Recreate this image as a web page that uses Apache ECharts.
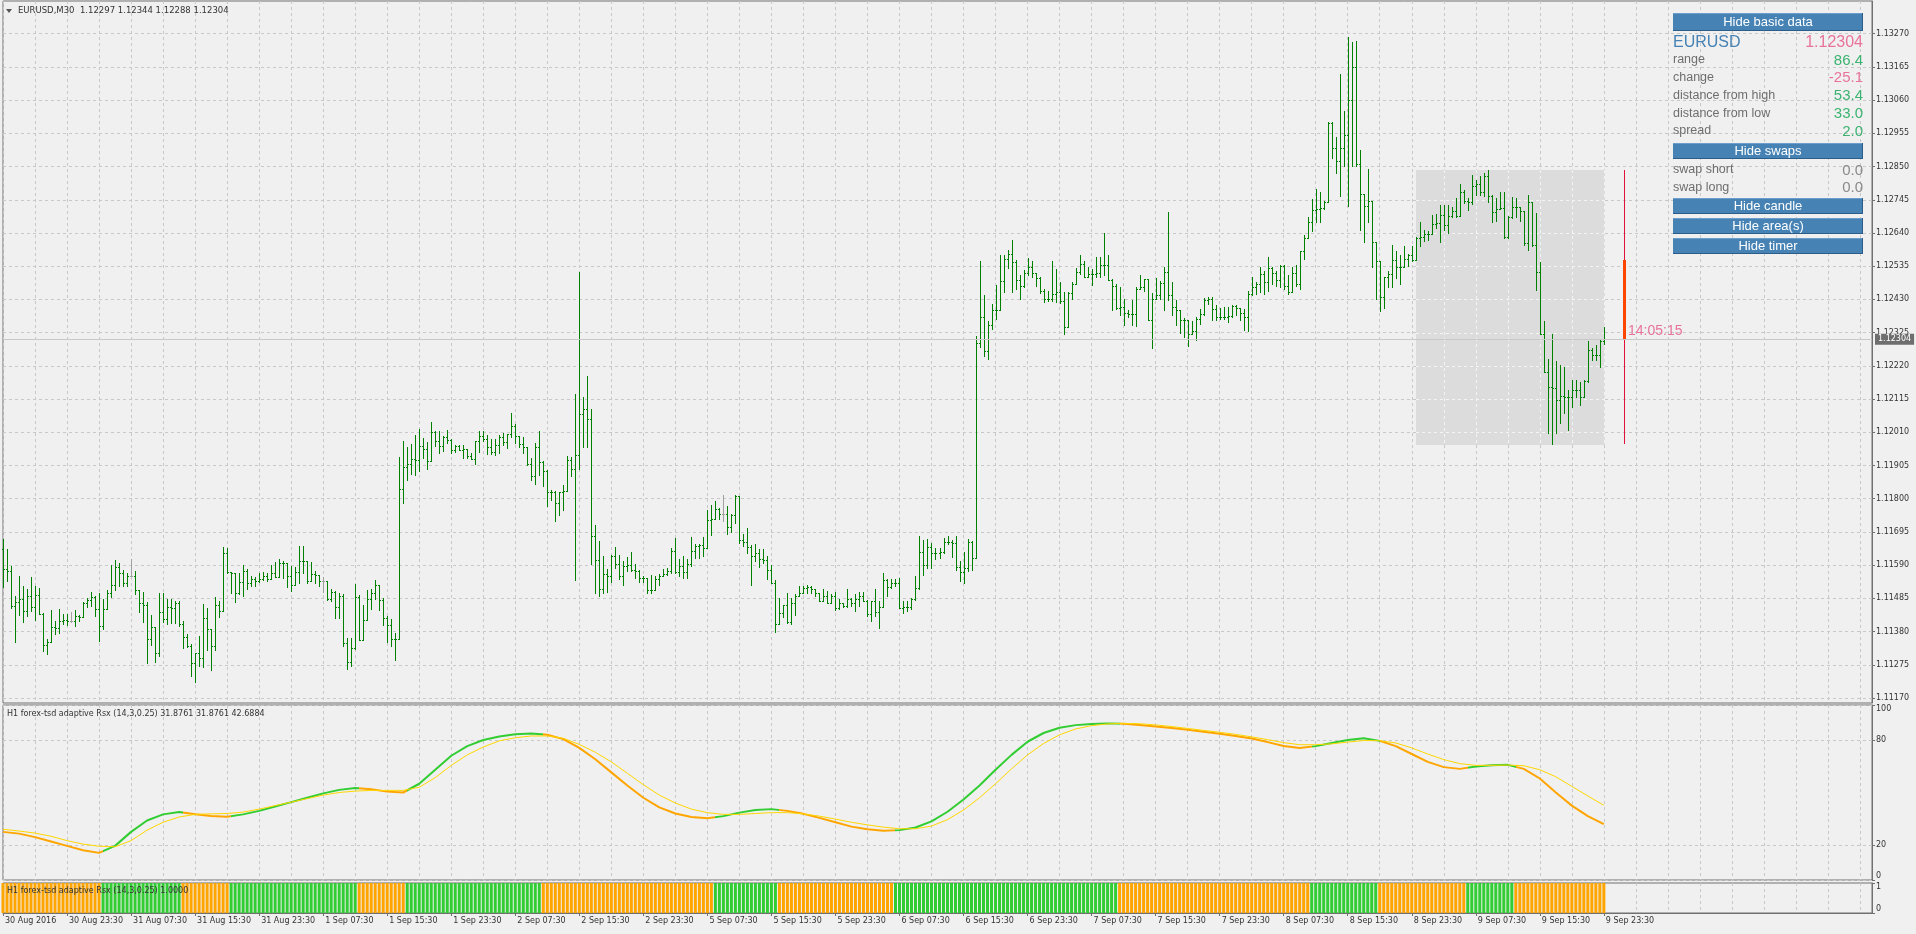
<!DOCTYPE html>
<html><head><meta charset="utf-8">
<script src="https://cdn.jsdelivr.net/npm/echarts@6/dist/echarts.min.js"></script>
<style>html,body{margin:0;padding:0;background:#f0f0f0;overflow:hidden}#c{width:1916px;height:934px}</style>
</head><body><div id="c"></div>
<script>
// ---------------- data ----------------
const symbolName = 'EURUSD,M30';
const tickLabels = ['30 Aug 2016','30 Aug 23:30','31 Aug 07:30','31 Aug 15:30','31 Aug 23:30','1 Sep 07:30','1 Sep 15:30','1 Sep 23:30','2 Sep 07:30','2 Sep 15:30','2 Sep 23:30','5 Sep 07:30','5 Sep 15:30','5 Sep 23:30','6 Sep 07:30','6 Sep 15:30','6 Sep 23:30','7 Sep 07:30','7 Sep 15:30','7 Sep 23:30','8 Sep 07:30','8 Sep 15:30','8 Sep 23:30','9 Sep 07:30','9 Sep 15:30','9 Sep 23:30'];
const barsPerLabel = 16;
const barsPerGridCell = 8;
const totalSlots = 468;
const priceTicks = [1.11170,1.11275,1.11380,1.11485,1.11590,1.11695,1.11800,1.11905,1.12010,1.12115,1.12220,1.12325,1.12430,1.12535,1.12640,1.12745,1.12850,1.12955,1.13060,1.13165,1.13270];
const rsxTicks = [0,20,80,100];
const histTicks = [0,1];

const opens = [
1.11640,1.11578,1.11571,1.11461,1.11474,1.11484,1.11444,1.11492,1.11459,1.11497,
1.11437,1.11339,1.11348,1.11393,1.11390,1.11413,1.11416,1.11414,1.11414,1.11429,
1.11427,1.11471,1.11479,1.11490,1.11452,1.11398,1.11452,1.11503,1.11528,1.11585,
1.11566,1.11534,1.11557,1.11557,1.11511,1.11469,1.11463,1.11358,1.11396,1.11311,
1.11442,1.11419,1.11459,1.11455,1.11469,1.11403,1.11364,1.11335,1.11282,1.11311,
1.11296,1.11422,1.11387,1.11335,1.11465,1.11446,1.11629,1.11567,1.11564,1.11503,
1.11537,1.11572,1.11532,1.11545,1.11540,1.11547,1.11555,1.11545,1.11564,1.11553,
1.11598,1.11597,1.11556,1.11526,1.11569,1.11603,1.11604,1.11540,1.11561,1.11560,
1.11540,1.11540,1.11482,1.11506,1.11459,1.11492,1.11345,1.11285,1.11327,1.11490,
1.11352,1.11416,1.11482,1.11501,1.11526,1.11481,1.11424,1.11400,1.11358,1.11356,
1.11830,1.11900,1.11910,1.11924,1.11923,1.11967,1.11956,1.11919,1.12011,1.11981,
1.11967,1.11996,1.11985,1.11953,1.11968,1.11954,1.11956,1.11935,1.11927,1.11981,
1.11998,1.11990,1.11965,1.11948,1.11970,1.11995,1.11978,1.12005,1.12030,1.11998,
1.11973,1.11965,1.11909,1.11872,1.11962,1.11917,1.11888,1.11820,1.11822,1.11786,
1.11821,1.11824,1.11921,1.11893,1.11939,1.12068,1.12084,1.12051,1.11683,1.11605,
1.11513,1.11561,1.11555,1.11618,1.11594,1.11555,1.11587,1.11590,1.11576,1.11573,
1.11549,1.11550,1.11511,1.11510,1.11545,1.11557,1.11562,1.11571,1.11636,1.11567,
1.11587,1.11567,1.11595,1.11636,1.11650,1.11655,1.11645,1.11734,1.11736,1.11768,
1.11752,1.11752,1.11711,1.11747,1.11807,1.11668,1.11663,1.11647,1.11618,1.11629,
1.11610,1.11606,1.11574,1.11534,1.11403,1.11440,1.11463,1.11410,1.11469,1.11494,
1.11503,1.11519,1.11520,1.11513,1.11503,1.11476,1.11492,1.11469,1.11494,1.11456,
1.11469,1.11461,1.11484,1.11471,1.11484,1.11494,1.11477,1.11434,1.11477,1.11443,
1.11459,1.11543,1.11522,1.11534,1.11535,1.11456,1.11457,1.11459,1.11482,1.11519,
1.11631,1.11591,1.11647,1.11627,1.11628,1.11632,1.11663,1.11662,1.11660,1.11585,
1.11568,1.11582,1.11662,1.11611,1.12292,1.12374,1.12266,1.12350,1.12397,1.12395,
1.12488,1.12558,1.12574,1.12548,1.12490,1.12471,1.12514,1.12532,1.12515,1.12497,
1.12456,1.12432,1.12431,1.12448,1.12453,1.12424,1.12343,1.12450,1.12479,1.12516,
1.12542,1.12502,1.12511,1.12509,1.12514,1.12539,1.12538,1.12490,1.12474,1.12403,
1.12406,1.12387,1.12385,1.12383,1.12462,1.12469,1.12493,1.12366,1.12432,1.12443,
1.12483,1.12518,1.12445,1.12406,1.12397,1.12364,1.12366,1.12322,1.12330,1.12369,
1.12385,1.12427,1.12430,1.12399,1.12376,1.12374,1.12376,1.12379,1.12408,1.12404,
1.12388,1.12374,1.12446,1.12469,1.12479,1.12511,1.12485,1.12530,1.12514,1.12490,
1.12537,1.12474,1.12453,1.12514,1.12479,1.12582,1.12624,1.12674,1.12712,1.12716,
1.12719,1.12737,1.12989,1.12908,1.12868,1.12908,1.12950,1.13059,1.13164,1.12859,
1.12763,1.12726,1.12742,1.12613,1.12553,1.12439,1.12500,1.12511,1.12555,1.12532,
1.12534,1.12558,1.12569,1.12555,1.12624,1.12626,1.12637,1.12638,1.12668,1.12673,
1.12697,1.12666,1.12695,1.12709,1.12695,1.12768,1.12742,1.12737,1.12789,1.12794,
1.12771,1.12821,1.12758,1.12707,1.12716,1.12720,1.12626,1.12689,1.12721,1.12722,
1.12709,1.12609,1.12737,1.12602,1.12516,1.12322,1.12201,1.12154,1.12150,1.12112,
1.12124,1.12122,1.12120,1.12143,1.12145,1.12122,1.12172,1.12271,1.12254,1.12255,
1.12297];

const highs = [
1.11673,1.11642,1.11587,1.11492,1.11557,1.11523,1.11516,1.11554,1.11523,1.11518,
1.11438,1.11356,1.11447,1.11413,1.11450,1.11437,1.11437,1.11441,1.11449,1.11432,
1.11473,1.11486,1.11505,1.11491,1.11503,1.11484,1.11512,1.11589,1.11605,1.11597,
1.11574,1.11564,1.11610,1.11572,1.11511,1.11504,1.11472,1.11431,1.11396,1.11501,
1.11501,1.11484,1.11484,1.11477,1.11476,1.11414,1.11371,1.11340,1.11311,1.11367,
1.11468,1.11456,1.11389,1.11488,1.11478,1.11646,1.11643,1.11568,1.11566,1.11566,
1.11592,1.11577,1.11555,1.11554,1.11566,1.11567,1.11565,1.11591,1.11599,1.11610,
1.11603,1.11597,1.11588,1.11585,1.11650,1.11652,1.11604,1.11600,1.11570,1.11560,
1.11551,1.11540,1.11516,1.11509,1.11503,1.11500,1.11360,1.11359,1.11529,1.11495,
1.11465,1.11511,1.11516,1.11544,1.11528,1.11486,1.11429,1.11419,1.11377,1.11932,
1.11981,1.11965,1.11972,1.12002,1.12019,1.11993,1.11980,1.12043,1.12014,1.12015,
1.11998,1.12016,1.11989,1.11970,1.11970,1.11969,1.11956,1.11943,1.11981,1.12014,
1.12014,1.12000,1.11988,1.11988,1.12000,1.12007,1.12006,1.12070,1.12035,1.11998,
1.11996,1.11965,1.11929,1.11975,1.12014,1.11919,1.11890,1.11827,1.11824,1.11822,
1.11842,1.11935,1.11932,1.12131,1.12518,1.12120,1.12187,1.12085,1.11718,1.11665,
1.11619,1.11579,1.11621,1.11647,1.11621,1.11603,1.11616,1.11633,1.11595,1.11576,
1.11557,1.11550,1.11558,1.11555,1.11561,1.11579,1.11582,1.11645,1.11675,1.11610,
1.11618,1.11610,1.11680,1.11656,1.11658,1.11678,1.11765,1.11781,1.11794,1.11770,
1.11813,1.11776,1.11752,1.11812,1.11807,1.11687,1.11708,1.11655,1.11658,1.11642,
1.11640,1.11618,1.11589,1.11542,1.11487,1.11463,1.11503,1.11487,1.11498,1.11523,
1.11524,1.11528,1.11524,1.11513,1.11503,1.11513,1.11508,1.11500,1.11505,1.11482,
1.11471,1.11513,1.11487,1.11498,1.11505,1.11505,1.11479,1.11477,1.11513,1.11476,
1.11566,1.11545,1.11547,1.11547,1.11548,1.11477,1.11477,1.11487,1.11555,1.11683,
1.11668,1.11673,1.11660,1.11645,1.11645,1.11676,1.11683,1.11669,1.11681,1.11603,
1.11632,1.11674,1.11666,1.12313,1.12550,1.12443,1.12361,1.12416,1.12476,1.12569,
1.12569,1.12586,1.12619,1.12555,1.12506,1.12523,1.12561,1.12550,1.12515,1.12500,
1.12464,1.12456,1.12550,1.12527,1.12485,1.12453,1.12453,1.12485,1.12530,1.12569,
1.12553,1.12534,1.12527,1.12563,1.12563,1.12640,1.12569,1.12495,1.12479,1.12469,
1.12430,1.12397,1.12427,1.12469,1.12508,1.12495,1.12495,1.12450,1.12497,1.12487,
1.12532,1.12707,1.12484,1.12427,1.12397,1.12372,1.12366,1.12361,1.12374,1.12401,
1.12435,1.12438,1.12437,1.12411,1.12404,1.12406,1.12406,1.12413,1.12411,1.12404,
1.12401,1.12456,1.12502,1.12485,1.12532,1.12521,1.12565,1.12532,1.12521,1.12539,
1.12539,1.12506,1.12532,1.12540,1.12584,1.12635,1.12691,1.12747,1.12779,1.12768,
1.12742,1.12992,1.12991,1.12943,1.13143,1.13027,1.13260,1.13244,1.13246,1.12901,
1.12763,1.12842,1.12742,1.12613,1.12553,1.12500,1.12521,1.12603,1.12584,1.12569,
1.12600,1.12574,1.12600,1.12628,1.12676,1.12651,1.12647,1.12697,1.12700,1.12729,
1.12730,1.12730,1.12721,1.12752,1.12794,1.12775,1.12752,1.12824,1.12807,1.12819,
1.12831,1.12838,1.12760,1.12752,1.12770,1.12770,1.12695,1.12754,1.12752,1.12722,
1.12709,1.12761,1.12737,1.12702,1.12548,1.12361,1.12243,1.12322,1.12235,1.12222,
1.12217,1.12143,1.12175,1.12175,1.12170,1.12175,1.12298,1.12277,1.12285,1.12303,
1.12344];

const lows = [
1.11521,1.11540,1.11456,1.11347,1.11431,1.11410,1.11429,1.11444,1.11417,1.11437,
1.11319,1.11309,1.11348,1.11372,1.11377,1.11403,1.11400,1.11410,1.11398,1.11414,
1.11427,1.11458,1.11460,1.11429,1.11351,1.11387,1.11452,1.11490,1.11511,1.11524,
1.11524,1.11524,1.11555,1.11499,1.11442,1.11410,1.11281,1.11337,1.11283,1.11304,
1.11409,1.11405,1.11406,1.11408,1.11398,1.11329,1.11331,1.11240,1.11221,1.11270,
1.11269,1.11322,1.11260,1.11322,1.11426,1.11445,1.11566,1.11503,1.11473,1.11500,
1.11494,1.11514,1.11524,1.11524,1.11537,1.11542,1.11540,1.11545,1.11552,1.11553,
1.11549,1.11521,1.11508,1.11526,1.11534,1.11566,1.11534,1.11540,1.11534,1.11524,
1.11506,1.11481,1.11477,1.11424,1.11423,1.11334,1.11263,1.11270,1.11326,1.11352,
1.11352,1.11416,1.11450,1.11482,1.11449,1.11402,1.11348,1.11335,1.11291,1.11356,
1.11786,1.11860,1.11879,1.11876,1.11888,1.11928,1.11894,1.11918,1.11967,1.11943,
1.11950,1.11975,1.11943,1.11949,1.11954,1.11930,1.11928,1.11926,1.11909,1.11949,
1.11981,1.11940,1.11940,1.11938,1.11946,1.11970,1.11960,1.11996,1.11977,1.11962,
1.11946,1.11905,1.11858,1.11847,1.11876,1.11839,1.11776,1.11797,1.11729,1.11750,
1.11763,1.11823,1.11872,1.11543,1.11894,1.11965,1.11965,1.11595,1.11501,1.11492,
1.11503,1.11505,1.11536,1.11582,1.11547,1.11526,1.11571,1.11571,1.11549,1.11536,
1.11536,1.11501,1.11503,1.11510,1.11527,1.11555,1.11558,1.11564,1.11564,1.11557,
1.11549,1.11549,1.11587,1.11612,1.11613,1.11618,1.11645,1.11684,1.11736,1.11736,
1.11729,1.11689,1.11695,1.11723,1.11660,1.11650,1.11629,1.11526,1.11603,1.11584,
1.11597,1.11545,1.11532,1.11380,1.11403,1.11426,1.11408,1.11405,1.11433,1.11492,
1.11501,1.11503,1.11501,1.11492,1.11476,1.11476,1.11469,1.11469,1.11448,1.11452,
1.11458,1.11459,1.11461,1.11444,1.11461,1.11477,1.11429,1.11414,1.11429,1.11392,
1.11459,1.11492,1.11519,1.11524,1.11455,1.11440,1.11445,1.11450,1.11480,1.11513,
1.11560,1.11581,1.11581,1.11608,1.11614,1.11629,1.11657,1.11616,1.11576,1.11540,
1.11534,1.11573,1.11576,1.11611,1.12280,1.12250,1.12242,1.12338,1.12367,1.12395,
1.12453,1.12529,1.12455,1.12464,1.12431,1.12469,1.12506,1.12500,1.12472,1.12450,
1.12422,1.12425,1.12425,1.12422,1.12418,1.12322,1.12343,1.12430,1.12479,1.12511,
1.12500,1.12502,1.12476,1.12500,1.12502,1.12506,1.12490,1.12395,1.12401,1.12380,
1.12350,1.12374,1.12350,1.12345,1.12462,1.12458,1.12364,1.12277,1.12432,1.12432,
1.12397,1.12427,1.12381,1.12348,1.12324,1.12311,1.12283,1.12322,1.12303,1.12351,
1.12380,1.12416,1.12364,1.12364,1.12369,1.12369,1.12359,1.12374,1.12380,1.12364,
1.12332,1.12330,1.12443,1.12448,1.12453,1.12448,1.12458,1.12479,1.12474,1.12469,
1.12463,1.12448,1.12453,1.12474,1.12464,1.12558,1.12624,1.12647,1.12674,1.12674,
1.12716,1.12737,1.12876,1.12831,1.12758,1.12852,1.12726,1.12852,1.12852,1.12649,
1.12611,1.12674,1.12532,1.12432,1.12393,1.12404,1.12469,1.12469,1.12497,1.12479,
1.12532,1.12537,1.12553,1.12555,1.12598,1.12616,1.12618,1.12637,1.12656,1.12611,
1.12650,1.12639,1.12689,1.12689,1.12695,1.12735,1.12714,1.12731,1.12760,1.12760,
1.12756,1.12737,1.12674,1.12679,1.12716,1.12624,1.12624,1.12686,1.12689,1.12677,
1.12603,1.12586,1.12598,1.12460,1.12322,1.12201,1.12007,1.11974,1.12007,1.12038,
1.12070,1.12017,1.12091,1.12122,1.12096,1.12122,1.12170,1.12238,1.12238,1.12217,
1.12288];

const closes = [
1.11578,1.11571,1.11461,1.11474,1.11484,1.11444,1.11492,1.11459,1.11497,1.11437,
1.11339,1.11348,1.11393,1.11390,1.11413,1.11416,1.11414,1.11414,1.11429,1.11427,
1.11471,1.11479,1.11490,1.11452,1.11398,1.11452,1.11503,1.11528,1.11585,1.11566,
1.11534,1.11557,1.11557,1.11511,1.11469,1.11463,1.11358,1.11396,1.11311,1.11442,
1.11419,1.11459,1.11455,1.11469,1.11403,1.11364,1.11335,1.11282,1.11311,1.11296,
1.11422,1.11387,1.11335,1.11465,1.11446,1.11629,1.11567,1.11564,1.11503,1.11537,
1.11572,1.11532,1.11545,1.11540,1.11547,1.11555,1.11545,1.11564,1.11553,1.11598,
1.11597,1.11556,1.11526,1.11569,1.11603,1.11604,1.11540,1.11561,1.11560,1.11540,
1.11540,1.11482,1.11506,1.11459,1.11492,1.11345,1.11285,1.11327,1.11490,1.11352,
1.11416,1.11482,1.11501,1.11526,1.11481,1.11424,1.11400,1.11358,1.11356,1.11830,
1.11900,1.11910,1.11924,1.11923,1.11967,1.11956,1.11919,1.12011,1.11981,1.11967,
1.11996,1.11985,1.11953,1.11968,1.11954,1.11956,1.11935,1.11927,1.11981,1.11998,
1.11990,1.11965,1.11948,1.11970,1.11995,1.11978,1.12005,1.12030,1.11998,1.11973,
1.11965,1.11909,1.11872,1.11962,1.11917,1.11888,1.11820,1.11822,1.11786,1.11821,
1.11824,1.11921,1.11893,1.11939,1.12068,1.12084,1.12051,1.11683,1.11605,1.11513,
1.11561,1.11555,1.11618,1.11594,1.11555,1.11587,1.11590,1.11576,1.11573,1.11549,
1.11550,1.11511,1.11510,1.11545,1.11557,1.11562,1.11571,1.11636,1.11567,1.11587,
1.11567,1.11595,1.11636,1.11650,1.11655,1.11645,1.11734,1.11736,1.11768,1.11752,
1.11752,1.11711,1.11747,1.11807,1.11668,1.11663,1.11647,1.11618,1.11629,1.11610,
1.11606,1.11574,1.11534,1.11403,1.11440,1.11463,1.11410,1.11469,1.11494,1.11503,
1.11519,1.11520,1.11513,1.11503,1.11476,1.11492,1.11469,1.11494,1.11456,1.11469,
1.11461,1.11484,1.11471,1.11484,1.11494,1.11477,1.11434,1.11477,1.11443,1.11459,
1.11543,1.11522,1.11534,1.11535,1.11456,1.11457,1.11459,1.11482,1.11519,1.11631,
1.11591,1.11647,1.11627,1.11628,1.11632,1.11663,1.11662,1.11660,1.11585,1.11568,
1.11582,1.11662,1.11611,1.12292,1.12374,1.12266,1.12350,1.12397,1.12395,1.12488,
1.12558,1.12574,1.12548,1.12490,1.12471,1.12514,1.12532,1.12515,1.12497,1.12456,
1.12432,1.12431,1.12448,1.12453,1.12424,1.12343,1.12450,1.12479,1.12516,1.12542,
1.12502,1.12511,1.12509,1.12514,1.12539,1.12538,1.12490,1.12474,1.12403,1.12406,
1.12387,1.12385,1.12383,1.12462,1.12469,1.12493,1.12366,1.12432,1.12443,1.12483,
1.12518,1.12445,1.12406,1.12397,1.12364,1.12366,1.12322,1.12330,1.12369,1.12385,
1.12427,1.12430,1.12399,1.12376,1.12374,1.12376,1.12379,1.12408,1.12404,1.12388,
1.12374,1.12446,1.12469,1.12479,1.12511,1.12485,1.12530,1.12514,1.12490,1.12537,
1.12474,1.12453,1.12514,1.12479,1.12582,1.12624,1.12674,1.12712,1.12716,1.12719,
1.12737,1.12989,1.12908,1.12868,1.12908,1.12950,1.13059,1.13164,1.12859,1.12763,
1.12726,1.12742,1.12613,1.12553,1.12439,1.12500,1.12511,1.12555,1.12532,1.12534,
1.12558,1.12569,1.12555,1.12624,1.12626,1.12637,1.12638,1.12668,1.12673,1.12697,
1.12666,1.12695,1.12709,1.12695,1.12768,1.12742,1.12737,1.12789,1.12794,1.12771,
1.12821,1.12758,1.12707,1.12716,1.12720,1.12626,1.12689,1.12721,1.12722,1.12709,
1.12609,1.12737,1.12602,1.12516,1.12322,1.12201,1.12154,1.12150,1.12112,1.12124,
1.12122,1.12120,1.12143,1.12145,1.12122,1.12172,1.12271,1.12254,1.12255,1.12297,
1.12304];

// H1 adaptive RSX, one reading every 4th M30 bar (bar index = 4*k)
const rsxStep = 4;
const rsxValues = [
27.5,26.5,24.5,22,19.5,17,15.5,19.5,27.5,34,
37.5,38.8,37.6,36.6,36.2,37.5,39.5,42,44.5,47,
49.5,51.5,52.6,51.8,50.5,50,55,63,71,76.5,
80,82,83.3,83.7,83,80.5,75.5,69,61.5,54,
47,41.5,38,36,35.3,36.5,38.5,40,40.5,39.5,
37.8,35.5,33,30.5,29,28.2,28.5,30,33.5,39,
46,54,63,71.5,79,84,87,88.5,89.2,89.5,
89.3,88.6,87.7,86.8,85.8,84.7,83.6,82.3,80.8,78.8,
76.6,75.4,76.5,78.3,80,81,79.5,76.5,72,67.5,
64.5,63.5,64.8,65.6,65.8,63.5,58,50,42.5,36.5,
31.9];
const signalValues = [
29,28,26.8,25,22.5,20.5,19.3,19,22.5,28.5,
33,36,37.5,37.8,38,38.8,40.5,42.5,44.5,46.5,
48.5,50,50.8,51.2,51.2,51.2,53,58.5,65.5,71.5,
76,79.5,81.3,82.3,82.3,81,77.5,73,67.5,61,
54.5,48.5,44,40.5,38.5,37.5,37.5,38,38.5,38.5,
37.8,36.5,34.8,33,31.5,30.2,29.3,29.3,30.8,34.5,
40,47,55,63.5,71.5,78,83,86.3,88.2,89.2,
89.5,89.3,88.6,87.7,86.6,85.5,84.4,83.2,81.8,80.2,
78.5,77.3,77.3,77.8,78.8,79.7,79.6,78.3,75.5,72,
68.8,66.5,65.5,65.5,65.7,65.3,63,59,53.5,48,
42.7];
// slope state runs: [number of bars, 1 = rising (green) / 0 = falling (orange)]
const slopeRuns = [[25,0],[20,1],[12,0],[32,1],[12,0],[34,1],[43,0],[16,1],[29,0],[56,1],[48,0],[17,1],[22,0],[12,1],[23,0]];
const histLevel = 1;

const rsxTitle = 'H1 forex-tsd adaptive Rsx (14,3,0.25) 31.8761 31.8761 42.6884';
const histTitle = 'H1 forex-tsd adaptive Rsx (14,3,0.25) 1.0000';
const dayStart = 353;           // first M30 bar of 9 Sep
const daySlot = 405;            // slot of the daily candle / timer
const timerText = '14:05:15';
const spreadText = '2.0';
const swapShort = '0.0', swapLong = '0.0';

// ---------------- derived ----------------
const lastIdx = closes.length - 1;
const categories = Array.from({length: totalSlots}, (_, i) => String(i));
const ohlc = closes.map((c, i) => [i, opens[i], highs[i], lows[i], c]);
const dayHigh = Math.max(...highs.slice(dayStart));
const dayLow = Math.min(...lows.slice(dayStart));
const dayOpen = opens[dayStart];
const lastClose = closes[lastIdx];
const state = [];
slopeRuns.forEach(([n, s]) => { for (let j = 0; j < n; j++) state.push(s); });

const GREEN = '#32cd32', ORANGE = '#ffa500', BAR = '#008000', DOJI = '#a0a0a0';
const AX_FONT = 'DejaVu Sans';
const GRID_LINE = {color: '#c8c8c8', type: [3, 3], width: 1};

const pieces = [];
{ let s = 0; slopeRuns.forEach(([n, st]) => { pieces.push({gte: s, lt: s + n, color: st ? GREEN : ORANGE}); s += n; }); }

function renderBar(params, api) {
  const i = api.value(0), o = api.value(1), h = api.value(2), l = api.value(3), c = api.value(4);
  const pH = api.coord([i, h]), pL = api.coord([i, l]), pO = api.coord([i, o]), pC = api.coord([i, c]);
  const x = Math.round(pH[0]);
  const yH = Math.round(pH[1]), yL = Math.round(pL[1]);
  const col = o === c ? DOJI : BAR;
  return {type: 'group', children: [
    {type: 'rect', shape: {x: x, y: yH, width: 1, height: Math.max(1, yL - yH + 1)}, style: {fill: col}},
    {type: 'rect', shape: {x: x - 1, y: Math.round(pO[1]), width: 1, height: 1}, style: {fill: col}},
    {type: 'rect', shape: {x: x + 1, y: Math.round(pC[1]), width: 1, height: 1}, style: {fill: col}}
  ]};
}
function renderDay(params, api) {
  const i = api.value(0);
  const pO = api.coord([i, api.value(1)]), pH = api.coord([i, api.value(2)]);
  const pL = api.coord([i, api.value(3)]), pC = api.coord([i, api.value(4)]);
  const x = Math.round(pH[0]);
  const yO = Math.round(pO[1]), yC = Math.round(pC[1]);
  return {type: 'group', children: [
    {type: 'rect', shape: {x: x, y: Math.round(pH[1]), width: 1, height: Math.round(pL[1]) - Math.round(pH[1])}, style: {fill: '#e0103a'}},
    {type: 'rect', shape: {x: x - 1, y: Math.min(yO, yC), width: 3, height: Math.abs(yC - yO)}, style: {fill: '#ff4500'}},
    {type: 'text', x: x + 4, y: yC - 1, style: {text: timerText, fill: '#e8739a', font: '14px "Liberation Sans"', align: 'left', verticalAlign: 'bottom'}}
  ]};
}
// the day's range area, with its grid showing through lighter (as the terminal draws it)
function renderDayArea(params, api) {
  const i0 = api.value(0), i1 = api.value(1), lo = api.value(2), hi = api.value(3);
  const pA = api.coord([i0, hi]), pB = api.coord([i1, lo]);
  const x0 = Math.round(pA[0]), x1 = Math.round(pB[0]) + 1, y0 = Math.round(pA[1]), y1 = Math.round(pB[1]) + 1;
  const kids = [{type: 'rect', shape: {x: x0, y: y0, width: x1 - x0, height: y1 - y0}, style: {fill: '#dcdcdc'}}];
  const dash = {stroke: '#f4f4f4', lineWidth: 1, lineDash: [3, 3]};
  priceTicks.forEach(t => {
    if (t > lo && t < hi) {
      const y = Math.round(api.coord([i0, t])[1]) + 0.5;
      kids.push({type: 'line', shape: {x1: x0, y1: y, x2: x1, y2: y}, style: dash});
    }
  });
  for (let k = Math.ceil(i0 / barsPerGridCell) * barsPerGridCell; k <= i1; k += barsPerGridCell) {
    const x = Math.round(api.coord([k, hi])[0]) + 0.5;
    kids.push({type: 'line', shape: {x1: x, y1: y0, x2: x, y2: y1}, style: dash});
  }
  return {type: 'group', children: kids};
}

// ---------------- info panel ----------------
const pipsFmt = v => (v * 10000).toFixed(1);
const infoRows = [
  ['range', pipsFmt(dayHigh - dayLow), '#3cb371', 60],
  ['change', pipsFmt(lastClose - dayOpen), '#e8739a', 77.7],
  ['distance from high', pipsFmt(dayHigh - lastClose), '#3cb371', 95.7],
  ['distance from low', pipsFmt(lastClose - dayLow), '#3cb371', 113.3],
  ['spread', spreadText, '#3cb371', 131],
  ['swap short', swapShort, '#8a8a8a', 170],
  ['swap long', swapLong, '#8a8a8a', 187.7]
];
const buttons = [['Hide basic data', 13, 18], ['Hide swaps', 143, 16], ['Hide candle', 198, 16], ['Hide area(s)', 218, 16], ['Hide timer', 238, 16]];
const PX1 = 1673, PX2 = 1863;
const graphic = [];
buttons.forEach(([t, y, h]) => {
  graphic.push({type: 'rect', z: 100, shape: {x: PX1, y: y, width: PX2 - PX1, height: h}, style: {fill: '#4682b4'}});
  graphic.push({type: 'rect', z: 100, shape: {x: PX1, y: y, width: PX2 - PX1, height: 1}, style: {fill: '#6c9dcc'}});
  graphic.push({type: 'rect', z: 100, shape: {x: PX1, y: y + h - 1, width: PX2 - PX1, height: 1}, style: {fill: '#2c5c88'}});
  graphic.push({type: 'rect', z: 100, shape: {x: PX2 - 1, y: y, width: 1, height: h}, style: {fill: '#2c5c88'}});
  graphic.push({type: 'text', z: 101, x: (PX1 + PX2) / 2, y: y + h / 2 + 0.5, style: {text: t, fill: '#ffffff', font: '13px "Liberation Sans"', align: 'center', verticalAlign: 'middle'}});
});
graphic.push({type: 'text', z: 101, x: PX1, y: 42.3, style: {text: 'EURUSD', fill: '#4682b4', font: '16px "Liberation Sans"', align: 'left', verticalAlign: 'middle'}});
graphic.push({type: 'text', z: 101, x: PX2, y: 42.3, style: {text: lastClose.toFixed(5), fill: '#e8739a', font: '16px "Liberation Sans"', align: 'right', verticalAlign: 'middle'}});
infoRows.forEach(([lab, val, col, y]) => {
  graphic.push({type: 'text', z: 101, x: PX1, y: y, style: {text: lab, fill: '#6e6e6e', font: '12.5px "Liberation Sans"', align: 'left', verticalAlign: 'middle'}});
  graphic.push({type: 'text', z: 101, x: PX2, y: y + 0.5, style: {text: val, fill: col, font: '15px "Liberation Sans"', align: 'right', verticalAlign: 'middle'}});
});
// panel titles
graphic.push({type: 'polygon', z: 101, shape: {points: [[6, 9], [12, 9], [9, 13]]}, style: {fill: '#555'}});
graphic.push({type: 'text', z: 101, x: 18, y: 11, style: {text: symbolName + '  ' + [opens[lastIdx], highs[lastIdx], lows[lastIdx], closes[lastIdx]].map(v => v.toFixed(5)).join(' '), fill: '#333', font: '8.5px "' + AX_FONT + '"', align: 'left', verticalAlign: 'middle'}});
graphic.push({type: 'text', z: 101, x: 7, y: 714, style: {text: rsxTitle, fill: '#333', font: '8px "' + AX_FONT + '"', align: 'left', verticalAlign: 'middle'}});
graphic.push({type: 'text', z: 101, x: 7, y: 891, style: {text: histTitle, fill: '#333', font: '8px "' + AX_FONT + '"', align: 'left', verticalAlign: 'middle'}});

// ---------------- chart ----------------
const gridBase = {left: 3, right: 44, show: true, borderColor: '#707070', borderWidth: 1, backgroundColor: 'transparent'};
function xAx(gi, bottom) {
  return {
    type: 'category', gridIndex: gi, data: categories, boundaryGap: false,
    axisLine: {show: bottom, lineStyle: {color: '#707070'}},
    axisTick: {show: bottom, length: 3, lineStyle: {color: '#707070'}, interval: (idx) => idx % barsPerLabel === 0 && idx <= lastIdx},
    axisLabel: {show: bottom, interval: (idx) => idx % barsPerLabel === 0 && idx <= lastIdx, align: 'left', margin: 4, padding: [0, 0, 0, 2],
      fontSize: 8, fontFamily: AX_FONT, color: '#333',
      formatter: (v, idx) => (idx % barsPerLabel === 0 && tickLabels[idx / barsPerLabel]) ? tickLabels[idx / barsPerLabel] : ''},
    splitLine: {show: true, interval: barsPerGridCell - 1, lineStyle: GRID_LINE}
  };
}
function yAx(gi, min, max, ticks, fmt, split) {
  return {
    type: 'value', gridIndex: gi, position: 'right', min: min, max: max, scale: true,
    axisLine: {show: true, lineStyle: {color: '#707070'}},
    axisTick: {show: true, length: 3, customValues: ticks, lineStyle: {color: '#707070'}},
    axisLabel: {customValues: ticks, margin: 4, fontSize: 8, fontFamily: AX_FONT, color: '#333', formatter: fmt,
      verticalAlignMinLabel: 'bottom', verticalAlignMaxLabel: 'top'},
    splitLine: {show: split, lineStyle: GRID_LINE}
  };
}

const option = {
  animation: false,
  backgroundColor: '#f0f0f0',
  grid: [
    Object.assign({top: 1, height: 702}, gridBase),
    Object.assign({top: 705, height: 175}, gridBase),
    Object.assign({top: 883, height: 30}, gridBase)
  ],
  xAxis: [xAx(0, false), xAx(1, false), xAx(2, true)],
  yAxis: [
    Object.assign(yAx(0, 1.1115419, 1.1337337, priceTicks, v => v.toFixed(5), true), {axisLabel: {customValues: priceTicks, margin: 4, fontSize: 8, fontFamily: AX_FONT, color: '#333', formatter: v => v.toFixed(5)}}),
    yAx(1, 0, 100, rsxTicks, v => String(v), true),
    yAx(2, 0, 1, histTicks, v => String(v), false)
  ],
  visualMap: [{type: 'piecewise', show: false, seriesIndex: 4, dimension: 0, pieces: pieces, outOfRange: {color: ORANGE}}],
  graphic: graphic,
  series: [
    { // day range area
      type: 'custom', xAxisIndex: 0, yAxisIndex: 0, z: 2, silent: true,
      renderItem: renderDayArea, encode: {x: [0, 1], y: [2, 3]},
      data: [[dayStart, lastIdx, dayLow, dayHigh]]
    },
    { // bid line
      type: 'line', xAxisIndex: 0, yAxisIndex: 0, z: 2, silent: true, symbol: 'none',
      data: closes.map((c, i) => [i, c]), lineStyle: {opacity: 0},
      markLine: {silent: true, symbol: ['none', 'none'], animation: false, precision: 5,
        lineStyle: {color: '#c8c8c8', type: 'solid', width: 1},
        label: {position: 'end', distance: 3, formatter: lastClose.toFixed(5), backgroundColor: '#6e6e6e', color: '#fff', padding: [2, 3, 1, 3], fontSize: 8, fontFamily: AX_FONT},
        data: [{yAxis: lastClose}]}
    },
    { // OHLC bars
      type: 'custom', xAxisIndex: 0, yAxisIndex: 0, z: 3, silent: true,
      renderItem: renderBar, encode: {x: 0, y: [1, 2, 3, 4]}, data: ohlc
    },
    { // daily candle + timer
      type: 'custom', xAxisIndex: 0, yAxisIndex: 0, z: 3, silent: true,
      renderItem: renderDay, encode: {x: 0, y: [1, 2, 3, 4]},
      data: [[daySlot, dayOpen, dayHigh, dayLow, lastClose]]
    },
    { // RSX
      type: 'line', xAxisIndex: 1, yAxisIndex: 1, z: 3, symbol: 'none', silent: true,
      lineStyle: {width: 2},
      data: rsxValues.map((v, k) => [k * rsxStep, v])
    },
    { // signal
      type: 'line', xAxisIndex: 1, yAxisIndex: 1, z: 4, symbol: 'none', silent: true,
      lineStyle: {width: 1, color: '#ffd700'}, itemStyle: {color: '#ffd700'},
      data: signalValues.map((v, k) => [k * rsxStep, v])
    },
    { // slope histogram
      type: 'bar', xAxisIndex: 2, yAxisIndex: 2, z: 3, silent: true, barWidth: 3,
      data: state.map((s, i) => ({value: [i, histLevel], itemStyle: {color: s ? GREEN : ORANGE}}))
    }
  ]
};
const chart = echarts.init(document.getElementById('c'), null, {width: 1916, height: 934});
chart.setOption(option);
</script>
</body></html>
